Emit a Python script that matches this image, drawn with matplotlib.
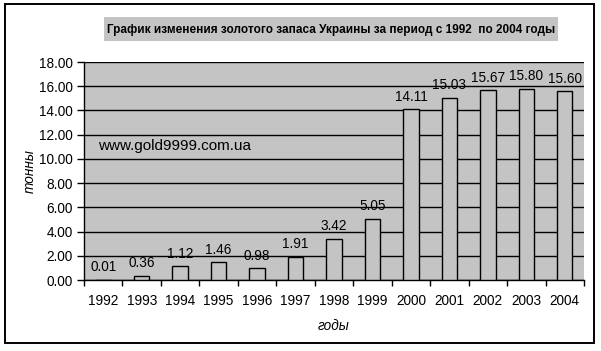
import matplotlib
matplotlib.use("Agg")
import matplotlib.pyplot as plt
from matplotlib.patches import Rectangle
import numpy as np

# data
years = ["1992", "1993", "1994", "1995", "1996", "1997", "1998",
         "1999", "2000", "2001", "2002", "2003", "2004"]
tons = [0.01, 0.36, 1.12, 1.46, 0.98, 1.91, 3.42,
        5.05, 14.11, 15.03, 15.67, 15.80, 15.60]
yticks = [0, 2, 4, 6, 8, 10, 12, 14, 16, 18]

plt.rcParams['font.family'] = ['Liberation Sans', 'DejaVu Sans']
grey = '#c4c4c4'
fs = 9.8

W, H = 601, 351
fig = plt.figure(figsize=(W / 100, H / 100), dpi=100)

# outer frame
fig.patches.append(Rectangle((5 / W, (H - 343) / H), 589 / W, 339 / H,
                             transform=fig.transFigure, fill=False,
                             edgecolor='black', linewidth=1.4))

# title box
fig.patches.append(Rectangle((104 / W, (H - 41) / H), 454 / W, 24 / H,
                             transform=fig.transFigure, facecolor=grey,
                             edgecolor='none'))
fig.text(331 / W, (H - 29.5) / H,
         "График изменения золотого запаса Украины за период с 1992  по 2004 годы",
         ha='center', va='center', fontsize=8.5, fontweight='bold')

ax = fig.add_axes([84 / W, (H - 280) / H, 500 / W, 218 / H])
ax.set_facecolor(grey)

x = np.arange(len(years))
ax.bar(x, tons, width=0.4, color=grey, edgecolor='black', linewidth=1.0, zorder=3)

for xi, v in zip(x, tons):
    ax.annotate("%.2f" % v, (xi, v), xytext=(0, 4), textcoords='offset points',
                ha='center', va='bottom', fontsize=fs, zorder=4)

ax.set_xlim(-0.5, len(years) - 0.5)
ax.set_ylim(0, 18)
ax.set_yticks(yticks)
ax.set_yticklabels(["%.2f" % t for t in yticks], fontsize=fs)
ax.yaxis.grid(True, color='black', linewidth=1.0, zorder=1)
ax.set_axisbelow(True)

ax.set_xticks(x)
ax.set_xticklabels(years, fontsize=fs)
ax.tick_params(axis='x', length=0, pad=10)
ax.set_xticks(np.arange(len(years) + 1) - 0.5, minor=True)
ax.tick_params(axis='x', which='minor', length=4, width=1, direction='out')
ax.tick_params(axis='y', length=5, width=1, direction='out', pad=3)

for s in ['top', 'right']:
    ax.spines[s].set_visible(False)
for s in ['left', 'bottom']:
    ax.spines[s].set_linewidth(1.0)

ax.set_ylabel("тонны", fontsize=fs, style='italic')
ax.yaxis.set_label_coords(-0.094, 0.5)
ax.set_xlabel("годы", fontsize=fs, style='italic', labelpad=8)

ax.text(98 / W, (H - 146) / H, "www.gold9999.com.ua", transform=fig.transFigure,
        ha='left', va='center', fontsize=11)

fig.savefig("out.png", dpi=100)
